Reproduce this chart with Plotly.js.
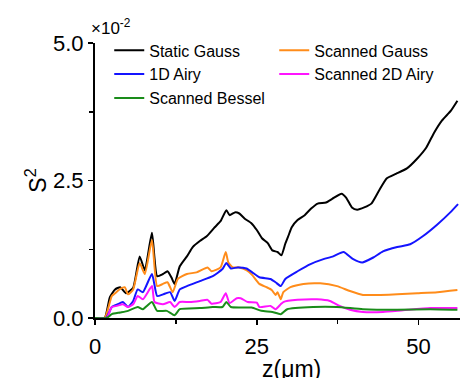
<!DOCTYPE html>
<html>
<head>
<meta charset="utf-8">
<script src="https://cdn.plot.ly/plotly-3.0.1.min.js"></script>
<style>html,body{margin:0;padding:0;background:#fff;}#chart{width:462px;height:378px;}</style>
</head>
<body>
<div id="chart"></div>
<script>
// values in units of 1e-2
const zStatic = [0,1.5,2.3,3.1,3.9,4.8,5.9,6.9,7.7,8.8,9.6,10.5,11.2,11.8,12.3,13.1,14.2,15.1,16.2,17.3,18.5,19.4,20.3,20.8,21.6,22.3,23.1,24.2,25.0,25.8,26.7,27.4,28.2,28.8,29.4,29.9,30.4,31.3,32.4,33.4,34.4,35.7,36.7,38.1,38.8,39.7,40.5,41.6,42.7,43.9,45.1,46.5,48.2,49.8,51.2,52.4,53.6,55.0,56.0];
const sStatic = [0,0,0.38,0.52,0.56,0.45,0.55,1.12,0.87,1.55,0.76,0.8,0.85,0.74,0.62,0.94,1.12,1.29,1.4,1.49,1.65,1.76,1.96,1.87,1.92,1.9,1.81,1.72,1.6,1.45,1.36,1.23,1.2,1.14,1.35,1.5,1.65,1.78,1.87,1.99,2.08,2.1,2.17,2.26,2.19,2.01,1.97,2.01,2.08,2.32,2.54,2.62,2.72,2.9,3.1,3.37,3.59,3.77,3.95];

const zScanGauss = [0,1.5,2.6,3.1,3.9,4.6,5.1,5.9,6.9,7.7,8.8,9.6,10.5,11.2,12.0,12.8,14.2,15.7,17.4,18.0,19.4,20.2,20.6,21.3,22.3,23.4,24.3,25.4,26.5,27.3,27.9,28.2,28.7,29.1,30.2,32.2,34.8,37.4,39.4,41.4,44.1,46.7,49.8,52.9,56.0];
const sScanGauss = [0,0,0.4,0.45,0.53,0.56,0.43,0.52,1.0,0.8,1.42,0.58,0.62,0.65,0.47,0.71,0.8,0.83,0.92,0.85,0.92,1.2,1.01,0.92,0.92,0.87,0.78,0.62,0.56,0.51,0.42,0.47,0.34,0.47,0.56,0.62,0.63,0.58,0.49,0.42,0.42,0.43,0.45,0.47,0.51];

const zAiry1D = [0,1.7,2.6,3.5,4.3,5.1,5.9,6.6,7.4,8.8,9.6,10.5,11.6,12.3,13.1,14.2,16.2,18.2,19.7,20.3,21.0,22.0,23.4,24.3,25.4,27.1,27.9,28.7,29.4,31.3,33.3,35.3,36.8,38.4,39.9,41.3,43.0,44.5,46.7,48.7,50.7,52.9,54.9,56.1];
const sAiry1D = [0,0,0.2,0.25,0.29,0.2,0.31,0.52,0.47,0.8,0.4,0.43,0.47,0.31,0.52,0.58,0.67,0.76,0.89,1.0,0.9,0.92,0.9,0.83,0.74,0.71,0.65,0.58,0.71,0.85,0.98,1.07,1.12,1.2,1.07,1.01,1.1,1.21,1.29,1.34,1.49,1.7,1.92,2.07];

const zAiry2D = [0,1.8,2.6,3.4,4.3,5.1,5.9,6.6,7.4,8.8,9.2,10.5,11.6,12.3,13.1,14.6,16.2,17.4,18.0,19.4,20.2,20.8,21.9,22.5,23.6,25.0,25.4,27.1,27.9,28.7,29.1,31.3,34.3,36.3,37.8,39.4,41.4,44.5,47.6,51.8,56.0];
const sAiry2D = [0,0,0.2,0.22,0.25,0.2,0.25,0.4,0.34,0.58,0.29,0.25,0.29,0.2,0.29,0.29,0.31,0.33,0.26,0.29,0.45,0.27,0.36,0.36,0.29,0.28,0.2,0.22,0.16,0.25,0.29,0.33,0.34,0.31,0.22,0.15,0.11,0.11,0.14,0.18,0.18];

const zBessel = [0,1.8,2.6,3.9,5.1,6.6,7.4,8.8,9.6,11.1,12.3,13.1,16.2,18.2,19.7,20.3,21.0,24.2,25.7,27.4,28.7,29.7,33.7,37.4,41.4,46.7,51.8,56.0];
const sBessel = [0,0,0.07,0.1,0.13,0.2,0.16,0.29,0.13,0.13,0.05,0.16,0.18,0.2,0.2,0.29,0.2,0.19,0.13,0.11,0.07,0.16,0.2,0.2,0.16,0.15,0.16,0.15];

const seriesNames = ["Static Gauss","Scanned Gauss","1D Airy","Scanned 2D Airy","Scanned Bessel"];
const xTickVals = [0,25,50];
const yTickVals = [0,2.5,5.0];

const colors = ["#000000","#ff8c1a","#1414ff","#ff14ff","#1a8c1a"];
const xs = [zStatic,zScanGauss,zAiry1D,zAiry2D,zBessel];
const ys = [sStatic,sScanGauss,sAiry1D,sAiry2D,sBessel];

const traces = seriesNames.map((n,i)=>({
  x: xs[i], y: ys[i], name: n, type:'scatter', mode:'lines',
  line:{color:colors[i], width:2, shape:'spline', smoothing:0.5}
}));

const font = "Arial, 'Liberation Sans', sans-serif";
const layout = {
  width:462, height:378,
  margin:{l:95, r:2, t:43, b:60},
  paper_bgcolor:'#fff', plot_bgcolor:'#fff',
  font:{family:font, color:'#000'},
  showlegend:true,
  legend:{orientation:'h', x:0.039, y:1.035, xanchor:'left', yanchor:'top',
    entrywidth:120, entrywidthmode:'pixels', bgcolor:'rgba(0,0,0,0)',
    font:{family:font, size:16, color:'#000'}, traceorder:'normal'},
  xaxis:{range:[0,56.4], tickvals:xTickVals, ticktext:xTickVals.map(String),
    showline:true, linecolor:'#000', linewidth:2, ticks:'outside', ticklen:5, tickwidth:1.5, tickcolor:'#000',
    showgrid:false, zeroline:false, tickfont:{family:font, size:22}, ticklabelstandoff:3,
    minor:{dtick:12.5, tick0:0, ticks:'outside', ticklen:4, tickwidth:1.5, tickcolor:'#000', showgrid:false}},
  yaxis:{range:[0,5.0], tickvals:yTickVals, ticktext:yTickVals.map(v=>v.toFixed(1)),
    showline:true, linecolor:'#000', linewidth:2, ticks:'outside', ticklen:5, tickwidth:1.5, tickcolor:'#000',
    showgrid:false, zeroline:false, tickfont:{family:font, size:22},
    minor:{dtick:1.25, tick0:0, ticks:'outside', ticklen:4, tickwidth:1.5, tickcolor:'#000', showgrid:false},
    title:{text:'S<sup>2</sup>', font:{family:font, size:23}, standoff:0}},
  annotations:[
    {xref:'paper', yref:'paper', x:-0.017, y:1, xanchor:'left', yanchor:'bottom', yshift:3,
     text:'\u00d710<sup>-2</sup>', showarrow:false, font:{family:font, size:17, color:'#000'}},
    {xref:'paper', yref:'paper', x:0.537, y:0, xanchor:'center', yanchor:'top', yshift:-36,
     text:'z(\u03bcm)', showarrow:false, font:{family:font, size:23, color:'#000'}}
  ]
};
Plotly.newPlot('chart', traces, layout, {staticPlot:true, displayModeBar:false});
</script>
</body>
</html>
